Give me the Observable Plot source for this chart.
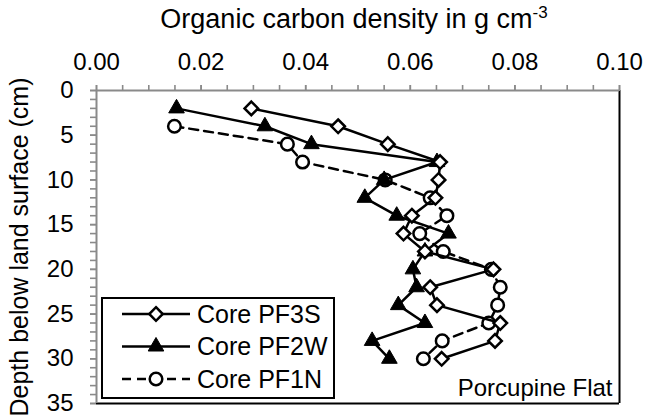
<!DOCTYPE html>
<html>
<head>
<meta charset="utf-8">
<script src="https://cdn.jsdelivr.net/npm/d3@7"></script>
<script src="https://cdn.jsdelivr.net/npm/@observablehq/plot@0.6"></script>
<style>
  html, body { margin: 0; padding: 0; background: #fff; }
  #chart { position: relative; width: 659px; height: 420px; }
</style>
</head>
<body>
<div id="chart"></div>
<script>
// ---- Data ----
const depths = [2, 4, 6, 8, 10, 12, 14, 16, 18, 20, 22, 24, 26, 28, 30];
const pf3s = [0.0296, 0.0462, 0.0557, 0.0657, 0.0654, 0.0648, 0.0603, 0.0587, 0.0628, 0.0759, 0.0638, 0.0651, 0.0772, 0.0762, 0.0660];
const pf2w = [0.0153, 0.0322, 0.0411, 0.0651, 0.0550, 0.0513, 0.0574, 0.0673, 0.0628, 0.0605, 0.0612, 0.0577, 0.0628, 0.0527, 0.0560];
const pf1nDepths = [4, 6, 8, 10, 12, 14, 16, 18, 20, 22, 24, 26, 28, 30];
const pf1n = [0.0149, 0.0365, 0.0394, 0.0552, 0.0638, 0.0670, 0.0618, 0.0663, 0.0755, 0.0772, 0.0767, 0.0750, 0.0661, 0.0625];

const seriesNames = ["Core PF3S", "Core PF2W", "Core PF1N"];
const xTicks = [0, 0.02, 0.04, 0.06, 0.08, 0.10];
const yTicks = [0, 5, 10, 15, 20, 25, 30, 35];
const xTitle = "Organic carbon density in g cm";
const xTitleSup = "-3";
const yTitle = "Depth below land surface (cm)";
const siteLabel = "Porcupine Flat";

const rows3s = depths.map((d, i) => ({depth: d, c: pf3s[i]}));
const rows2w = depths.map((d, i) => ({depth: d, c: pf2w[i]}));
const rows1n = pf1nDepths.map((d, i) => ({depth: d, c: pf1n[i]}));

const xMinor = d3.range(0, 0.1001, 0.005);
const yMinor = d3.range(0, 35.01, 1);

const axisGray = "#8a8a8a";
const font = "'Liberation Sans', Arial, sans-serif";

const mk = {
  circle: {r: 6.3, sw: 2.5},
  triangle: {r: 5.8, sw: 1},
  diamond: {r: 6.1, sw: 2.5}
};

const chart = Plot.plot({
  width: 659,
  height: 420,
  marginLeft: 96,
  marginRight: 40,
  marginTop: 90,
  marginBottom: 17,
  style: {fontFamily: font, fontSize: "24px", color: "#000", background: "#fff", overflow: "visible"},
  x: {domain: [0, 0.1]},
  y: {domain: [0, 35], reverse: true},
  marks: [
    // plot-area border (right & bottom)
    Plot.ruleX([0.1], {stroke: "#000", strokeWidth: 2}),
    Plot.ruleY([35], {stroke: "#000", strokeWidth: 2}),
    // minor ticks
    Plot.axisX(xMinor, {anchor: "top", tickSize: 6, tickFormat: () => "", stroke: axisGray, strokeWidth: 1.6, label: null}),
    Plot.axisY(yMinor, {anchor: "left", tickSize: 6, tickFormat: () => "", stroke: axisGray, strokeWidth: 1.6, label: null}),
    // major tick labels
    Plot.axisX(xTicks, {anchor: "top", tickSize: 6, tickPadding: 15, tickFormat: d3.format(".2f"), stroke: axisGray, strokeWidth: 1.6, fill: "#000", label: null}),
    Plot.axisY(yTicks, {anchor: "left", tickSize: 6, tickPadding: 17, tickFormat: d3.format("d"), stroke: axisGray, strokeWidth: 1.6, fill: "#000", label: null}),
    // axis lines
    Plot.ruleY([0], {stroke: axisGray, strokeWidth: 2}),
    Plot.ruleX([0], {stroke: axisGray, strokeWidth: 2}),
    // series PF1N (dashed, open circles)
    Plot.line(rows1n, {x: "c", y: "depth", stroke: "#000", strokeWidth: 2.5, strokeDasharray: "9,6"}),
    Plot.dot(rows1n, {x: "c", y: "depth", symbol: "circle", r: mk.circle.r, fill: "#fff", stroke: "#000", strokeWidth: mk.circle.sw}),
    // series PF2W (solid, filled triangles)
    Plot.line(rows2w, {x: "c", y: "depth", stroke: "#000", strokeWidth: 2.5}),
    Plot.dot(rows2w, {x: "c", y: "depth", symbol: "triangle", r: mk.triangle.r, fill: "#000", stroke: "#000", strokeWidth: mk.triangle.sw}),
    // series PF3S (solid, open diamonds)
    Plot.line(rows3s, {x: "c", y: "depth", stroke: "#000", strokeWidth: 2.5}),
    Plot.dot(rows3s, {x: "c", y: "depth", symbol: "diamond2", r: mk.diamond.r, fill: "#fff", stroke: "#000", strokeWidth: mk.diamond.sw}),
    // site label
    Plot.text([siteLabel], {frameAnchor: "bottom-right", dx: -7, dy: -8, fontSize: 24, fill: "#000"})
  ]
});

document.getElementById("chart").appendChild(chart);

// ---- Titles and legend added to the same SVG ----
const svg = d3.select(chart);

const t = svg.append("text")
  .attr("x", 354).attr("y", 28)
  .attr("text-anchor", "middle")
  .style("font-family", font).style("font-size", "27px").attr("fill", "#000");
t.append("tspan").text(xTitle);
t.append("tspan").attr("dy", -10).style("font-size", "17px").text(xTitleSup);

svg.append("text")
  .attr("transform", "translate(28,247) rotate(-90)")
  .attr("text-anchor", "middle")
  .style("font-family", font).style("font-size", "25px").attr("fill", "#000")
  .text(yTitle);

// legend
const lg = svg.append("g");
lg.append("rect").attr("x", 102).attr("y", 298).attr("width", 232).attr("height", 100)
  .attr("fill", "#fff").attr("stroke", "#000").attr("stroke-width", 2);
const legendRows = [
  {name: seriesNames[0], sym: d3.symbolDiamond2, m: mk.diamond, fill: "#fff", dash: null},
  {name: seriesNames[1], sym: d3.symbolTriangle, m: mk.triangle, fill: "#000", dash: null},
  {name: seriesNames[2], sym: d3.symbolCircle, m: mk.circle, fill: "#fff", dash: "9,6"}
];
legendRows.forEach((d, i) => {
  const y = 314 + i * 32.5;
  const ln = lg.append("line").attr("x1", 122).attr("x2", 190).attr("y1", y).attr("y2", y)
    .attr("stroke", "#000").attr("stroke-width", 2.5);
  if (d.dash) ln.attr("stroke-dasharray", d.dash);
  lg.append("path").attr("d", d3.symbol(d.sym, Math.PI * d.m.r * d.m.r)())
    .attr("transform", `translate(156,${y})`)
    .attr("fill", d.fill).attr("stroke", "#000").attr("stroke-width", d.m.sw);
  lg.append("text").attr("x", 197).attr("y", y).attr("dy", "0.35em")
    .attr("text-anchor", "start")
    .style("font-family", font).style("font-size", "25px").attr("fill", "#000")
    .text(d.name);
});
</script>
</body>
</html>
